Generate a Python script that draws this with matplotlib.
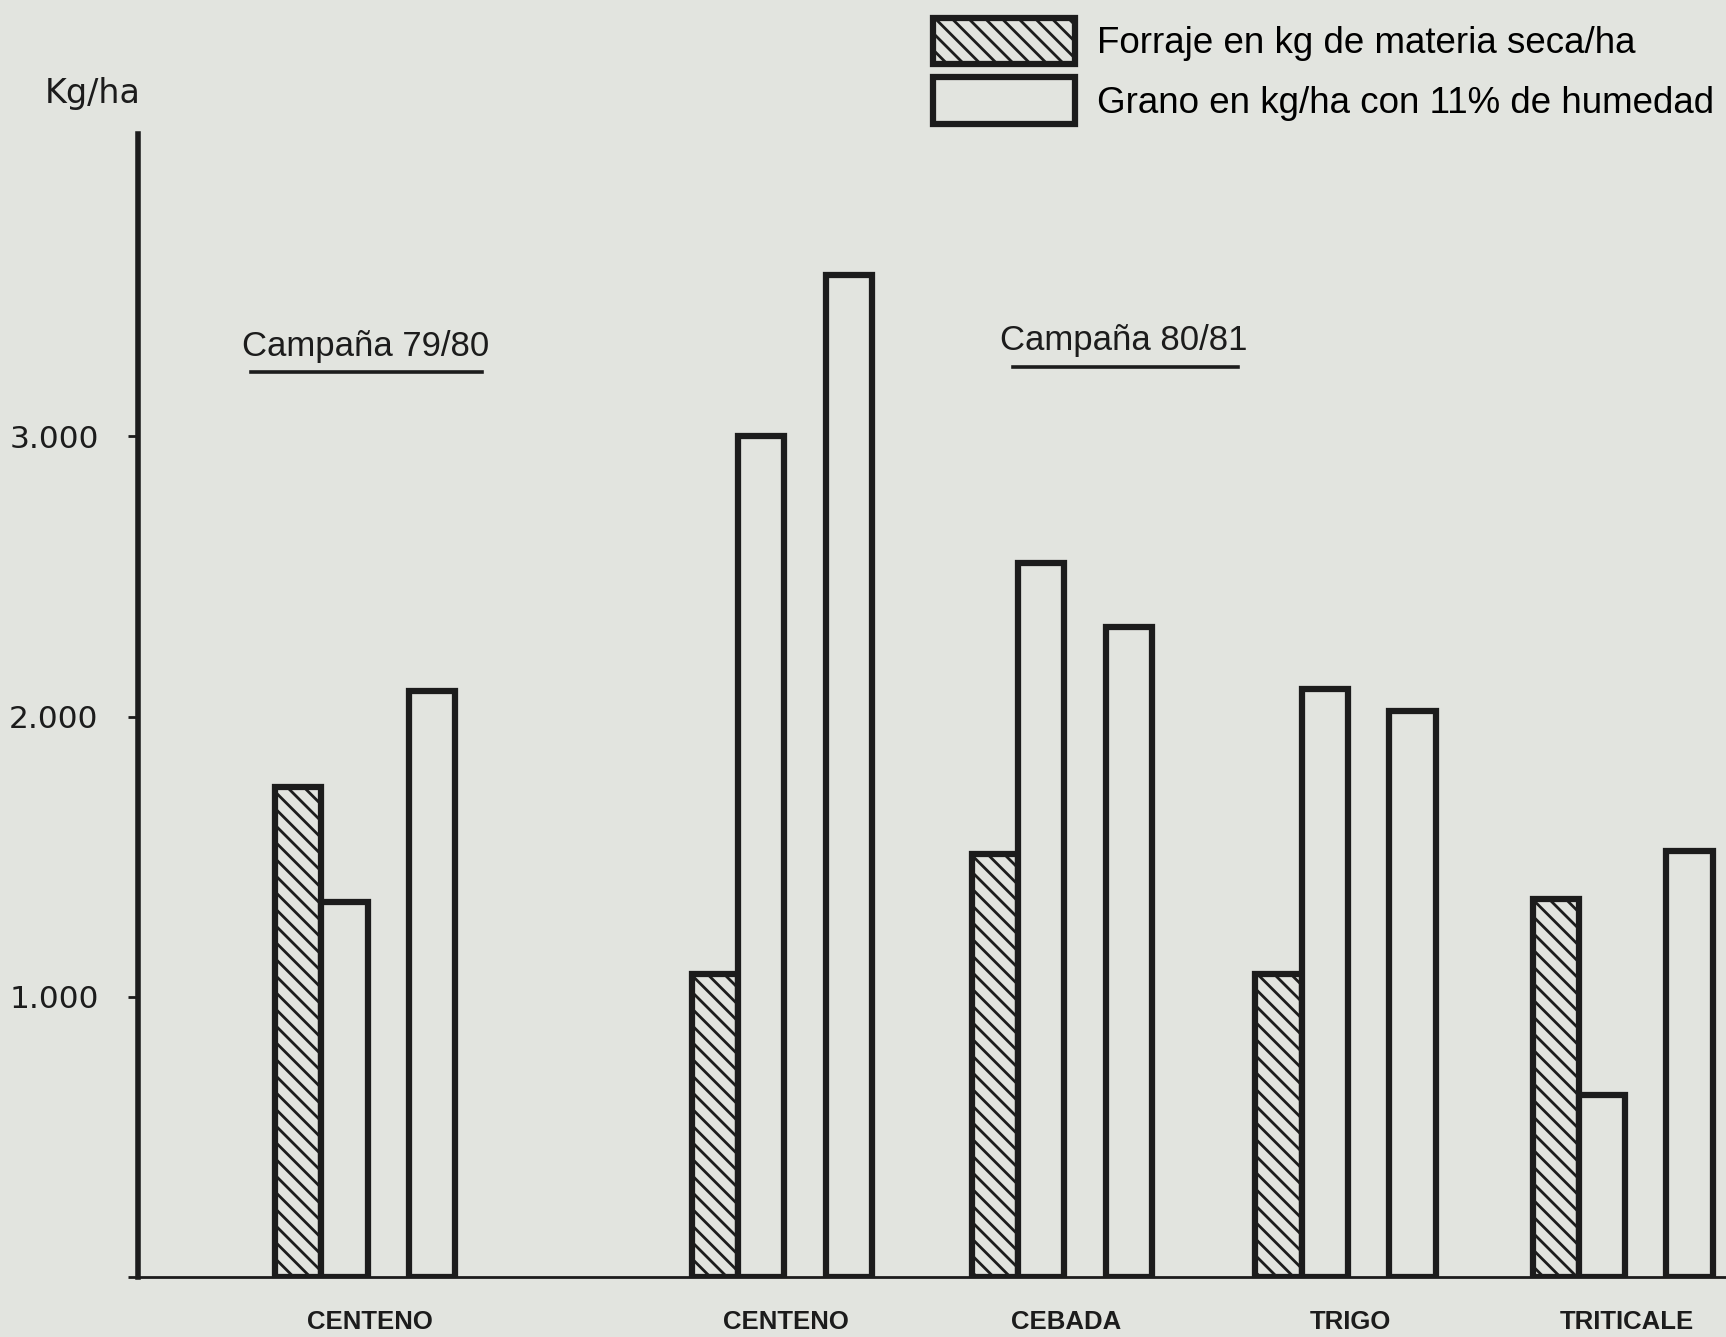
import matplotlib.pyplot as plt
from matplotlib.lines import Line2D

# valores (kg/ha)
categorias = ["CENTENO", "CENTENO", "CEBADA", "TRIGO", "TRITICALE"]
campanas = ["Campaña 79/80", "Campaña 80/81"]
forraje = [1750, 1080, 1510, 1080, 1350]
grano_tras_corte = [1340, 3000, 2550, 2100, 650]
grano_sin_corte = [2090, 3575, 2320, 2020, 1520]
y_ticks = [0, 1000, 2000, 3000]
y_tick_labels = ["", "1.000", "2.000", "3.000"]
leyenda = ["Forraje en kg de materia seca/ha", "Grano en kg/ha con 11% de humedad"]

# layout: left edge of every group, measured in bar widths from the y axis
group_x = [2.98, 12.0, 18.07, 24.21, 30.21]

bg = "#e2e4df"
ink = "#1c1c1c"
plt.rcParams["hatch.linewidth"] = 2.0

fig = plt.figure(figsize=(17.26, 13.37), dpi=100, facecolor=bg)
ax = fig.add_axes([0.0797, 0.0449, 0.9203, 0.855])
ax.set_facecolor(bg)

bar_kw = dict(width=1.0, align="edge", facecolor=bg, edgecolor=ink, linewidth=4.5)
b1 = ax.bar(group_x, forraje, hatch="\\\\", **bar_kw)
b2 = ax.bar([g + 1.0 for g in group_x], grano_tras_corte, **bar_kw)
ax.bar([g + 2.9 for g in group_x], grano_sin_corte, **bar_kw)

ax.set_xlim(0, 34.4)
ax.set_ylim(0, 4080)

for s in ["top", "right"]:
    ax.spines[s].set_visible(False)
ax.spines["left"].set_linewidth(4)
ax.spines["left"].set_color(ink)
ax.spines["bottom"].set_linewidth(2)
ax.spines["bottom"].set_color(ink)

ax.set_yticks(y_ticks)
ax.set_yticklabels(y_tick_labels, fontsize=22.5, family="DejaVu Sans", color=ink)
ax.tick_params(axis="y", length=7, width=2, color=ink, pad=21)

ax.set_xticks([g + 2.05 for g in group_x])
ax.set_xticklabels(categorias, fontsize=18.5, family="Liberation Sans",
                   fontweight="bold", color=ink)
ax.tick_params(axis="x", length=0, pad=24)

fig.text(0.0536, 0.930, "Kg/ha", fontsize=24, family="DejaVu Sans",
         color=ink, ha="center", va="center")

# titulos de campaña subrayados
fig.text(0.2118, 0.7407, campanas[0], fontsize=25, family="Liberation Sans",
         color=ink, ha="center", va="center")
fig.add_artist(Line2D([0.1454, 0.2793], [0.7218, 0.7218], color=ink, lw=2.6))
fig.text(0.651, 0.745, campanas[1], fontsize=25, family="Liberation Sans",
         color=ink, ha="center", va="center")
fig.add_artist(Line2D([0.5867, 0.7175], [0.7258, 0.7258], color=ink, lw=2.6))

fig.legend([b1, b2], leyenda, loc="upper left", bbox_to_anchor=(0.5405, 0.9865),
           frameon=False, borderpad=0, borderaxespad=0,
           handlelength=3.86, handleheight=1.56, handletextpad=0.6,
           labelspacing=0.35,
           prop={"family": "Liberation Sans", "size": 26.5})

fig.savefig("out.png", dpi=100, facecolor=bg)
